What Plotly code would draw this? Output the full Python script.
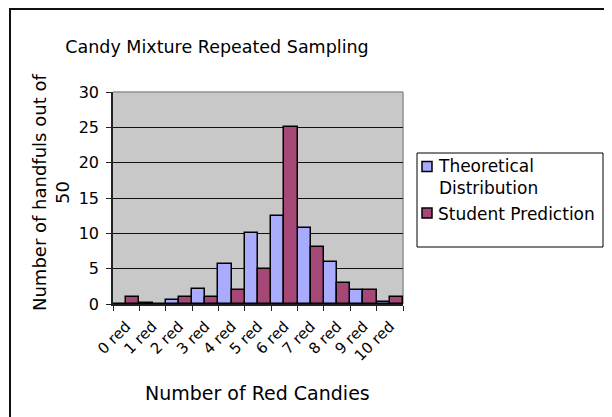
import plotly.graph_objects as go

categories = ["0 red", "1 red", "2 red", "3 red", "4 red", "5 red", "6 red", "7 red", "8 red", "9 red", "10 red"]
theoretical = [0.0, 0.08, 0.6, 2.1, 5.6, 10.0, 12.5, 10.8, 6.0, 2.0, 0.3]
student = [1, 0, 1, 1, 2, 5, 25, 8, 3, 2, 1]
y_ticks = [0, 5, 10, 15, 20, 25, 30]
series_names = ["Theoretical<br>Distribution", "Student Prediction"]
series_colors = ["#a9abff", "#a64877"]

W, H = 612, 417
OFF = 8  # page body offset
L, R, T, B = 113 - OFF, W - (403 - OFF), 92 - OFF, H - (304 - OFF)
pw, ph = W - L - R, H - T - B

def px(xs):
    return (xs - OFF - L) / pw

def py(ys):
    return (H - B - (ys - OFF)) / ph

FONT = "DejaVu Sans"

fig = go.Figure()
for name, vals, col in zip(series_names, [theoretical, student], series_colors):
    fig.add_trace(go.Bar(x=categories, y=vals, name=name, showlegend=False,
                         marker=dict(color=col, line=dict(color="#000000", width=1.5))))

fig.update_layout(
    width=W, height=H,
    margin=dict(l=L, r=R, t=T, b=B),
    paper_bgcolor="white", plot_bgcolor="#c8c8c8",
    barmode="group", bargap=0, bargroupgap=0,
    font=dict(family=FONT, color="#000000"),
    title=dict(text="Candy Mixture Repeated Sampling", x=(217 - OFF) / W, xanchor="center",
               y=1 - (47 - OFF) / H, yanchor="middle", font=dict(size=17.5, family=FONT)),
    xaxis=dict(type="category", tickson="boundaries", ticks="outside", ticklen=5,
               tickcolor="#222222", showline=True, linecolor="#222222", linewidth=1.5,
               tickangle=-45, tickfont=dict(size=15, family=FONT), showgrid=False,
               ticklabelstandoff=6),
    yaxis=dict(range=[0, 30], tickvals=y_ticks, ticks="outside", ticklen=5,
               tickcolor="#222222", showline=True, linecolor="#222222", linewidth=1.5,
               showgrid=True, gridcolor="#111111", gridwidth=1, zeroline=False,
               tickfont=dict(size=16, family=FONT), ticklabelstandoff=4),
)

fig.add_annotation(text="Number of handfuls out of<br>50", xref="paper", yref="paper",
                   x=px(51), y=py(193), xanchor="center", yanchor="middle",
                   textangle=-90, showarrow=False, font=dict(size=18, family=FONT))
fig.add_annotation(text="Number of Red Candies", xref="paper", yref="paper",
                   x=px(257), y=py(393), xanchor="center", yanchor="middle",
                   showarrow=False, font=dict(size=19, family=FONT))

# plot area top/right border
fig.add_shape(type="line", xref="paper", yref="paper", x0=0, x1=1, y0=1, y1=1,
              line=dict(color="#909090", width=1.5), layer="above")
fig.add_shape(type="line", xref="paper", yref="paper", x0=1, x1=1, y0=0, y1=1,
              line=dict(color="#909090", width=1.5), layer="below")

# legend box and entries
fig.add_shape(type="rect", xref="paper", yref="paper", x0=px(417), x1=px(603), y0=py(247), y1=py(153),
              line=dict(color="#000000", width=1), fillcolor="rgba(0,0,0,0)")
legend_rows = [(166.5, 177), (213, 214)]
for (sq_y, txt_y), name, col in zip(legend_rows, series_names, series_colors):
    fig.add_shape(type="rect", xref="paper", yref="paper",
                  x0=px(422), x1=px(432), y0=py(sq_y + 5), y1=py(sq_y - 5),
                  line=dict(color="#000000", width=1.5), fillcolor=col)
    fig.add_annotation(text=name, xref="paper", yref="paper", x=px(436), y=py(txt_y),
                       xanchor="left", yanchor="middle", align="left", showarrow=False,
                       font=dict(size=17, family=FONT))

# chart outer border
fig.add_shape(type="rect", xref="paper", yref="paper", x0=px(10), x1=px(640), y0=py(440), y1=py(9),
              line=dict(color="#111111", width=2), fillcolor="rgba(0,0,0,0)")

fig.write_html("out.html")
